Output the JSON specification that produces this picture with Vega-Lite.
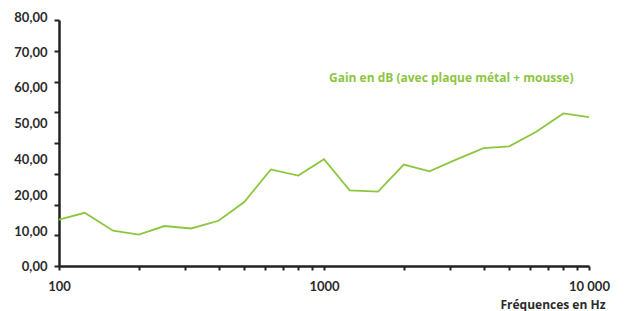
{
  "$schema": "https://vega.github.io/schema/vega-lite/v6.json",
  "width": 530,
  "height": 246,
  "autosize": {"type": "none"},
  "padding": {"left": 59, "top": 20, "right": 41, "bottom": 45},
  "background": "white",
  "config": {"view": {"stroke": null}, "font": "Lato"},
  "data": {
    "values": [
      {"freq": 100, "gain": 15.1, "serie": "Gain en dB (avec plaque métal + mousse)"},
      {"freq": 125, "gain": 17.3, "serie": "Gain en dB (avec plaque métal + mousse)"},
      {"freq": 160, "gain": 11.5, "serie": "Gain en dB (avec plaque métal + mousse)"},
      {"freq": 200, "gain": 10.2, "serie": "Gain en dB (avec plaque métal + mousse)"},
      {"freq": 250, "gain": 13.0, "serie": "Gain en dB (avec plaque métal + mousse)"},
      {"freq": 315, "gain": 12.2, "serie": "Gain en dB (avec plaque métal + mousse)"},
      {"freq": 400, "gain": 14.7, "serie": "Gain en dB (avec plaque métal + mousse)"},
      {"freq": 500, "gain": 20.8, "serie": "Gain en dB (avec plaque métal + mousse)"},
      {"freq": 630, "gain": 31.4, "serie": "Gain en dB (avec plaque métal + mousse)"},
      {"freq": 800, "gain": 29.4, "serie": "Gain en dB (avec plaque métal + mousse)"},
      {"freq": 1000, "gain": 34.7, "serie": "Gain en dB (avec plaque métal + mousse)"},
      {"freq": 1250, "gain": 24.6, "serie": "Gain en dB (avec plaque métal + mousse)"},
      {"freq": 1600, "gain": 24.2, "serie": "Gain en dB (avec plaque métal + mousse)"},
      {"freq": 2000, "gain": 33.0, "serie": "Gain en dB (avec plaque métal + mousse)"},
      {"freq": 2500, "gain": 30.8, "serie": "Gain en dB (avec plaque métal + mousse)"},
      {"freq": 3150, "gain": 34.6, "serie": "Gain en dB (avec plaque métal + mousse)"},
      {"freq": 4000, "gain": 38.3, "serie": "Gain en dB (avec plaque métal + mousse)"},
      {"freq": 5000, "gain": 38.9, "serie": "Gain en dB (avec plaque métal + mousse)"},
      {"freq": 6300, "gain": 43.6, "serie": "Gain en dB (avec plaque métal + mousse)"},
      {"freq": 8000, "gain": 49.6, "serie": "Gain en dB (avec plaque métal + mousse)"},
      {"freq": 10000, "gain": 48.4, "serie": "Gain en dB (avec plaque métal + mousse)"}
    ]
  },
  "mark": {"type": "line", "strokeWidth": 1.8, "interpolate": "linear"},
  "encoding": {
    "x": {
      "field": "freq",
      "type": "quantitative",
      "scale": {"type": "log", "domain": [100, 10000], "nice": false},
      "axis": {
        "values": [100, 200, 300, 400, 500, 600, 700, 800, 900, 1000, 2000, 3000, 4000, 5000, 6000, 7000, 8000, 9000, 10000],
        "labelExpr": "datum.value == 100 ? '100' : datum.value == 1000 ? '1000' : datum.value == 10000 ? '10 000' : ''",
        "labelOverlap": false,
        "labelFlush": false,
        "grid": false,
        "domainColor": "#222222",
        "domainWidth": 2.5,
        "tickColor": "#222222",
        "tickWidth": 2,
        "tickSize": 4,
        "labelPadding": 10,
        "labelFontSize": 13,
        "labelFontWeight": "bold",
        "labelColor": "#2b2b2b",
        "title": "Fréquences en Hz",
        "titleFont": "Open Sans",
        "titleFontSize": 12,
        "titleFontWeight": "bold",
        "titleColor": "#2b2b2b",
        "titleAnchor": "end",
        "titleAlign": "right",
        "titleBaseline": "middle",
        "titleX": 546,
        "titleY": 38
      }
    },
    "y": {
      "field": "gain",
      "type": "quantitative",
      "scale": {"domain": [0, 80], "nice": false},
      "axis": {
        "values": [0, 10, 20, 30, 40, 50, 60, 70, 80],
        "labelExpr": "datum.value == 30 ? '' : replace(format(datum.value, '.2f'), '.', ',')",
        "labelOverlap": false,
        "labelFlush": false,
        "labelOffset": {
          "condition": [
            {"test": "datum.value == 80", "value": -3},
            {"test": "datum.value == 70", "value": 1.3},
            {"test": "datum.value == 60", "value": 5.6},
            {"test": "datum.value == 50", "value": 11.6},
            {"test": "datum.value == 40", "value": 16.9},
            {"test": "datum.value == 20", "value": -9},
            {"test": "datum.value == 10", "value": -3.7}
          ],
          "value": 0.5
        },
        "grid": false,
        "domainColor": "#222222",
        "domainWidth": 2.5,
        "tickColor": "#222222",
        "tickWidth": 2,
        "tickSize": 5,
        "labelPadding": 7,
        "labelFontSize": 13,
        "labelFontWeight": "bold",
        "labelColor": "#2b2b2b",
        "title": null
      }
    },
    "color": {
      "field": "serie",
      "type": "nominal",
      "scale": {"range": ["#8cc63f"]},
      "legend": {
        "orient": "none",
        "legendX": 258,
        "legendY": 52,
        "title": null,
        "symbolSize": 0,
        "symbolStrokeWidth": 0,
        "symbolOpacity": 0,
        "labelOffset": 0,
        "labelFont": "Open Sans",
        "labelFontSize": 12,
        "labelFontWeight": "bold",
        "labelColor": "#8cc63f",
        "labelLimit": 400
      }
    }
  }
}
